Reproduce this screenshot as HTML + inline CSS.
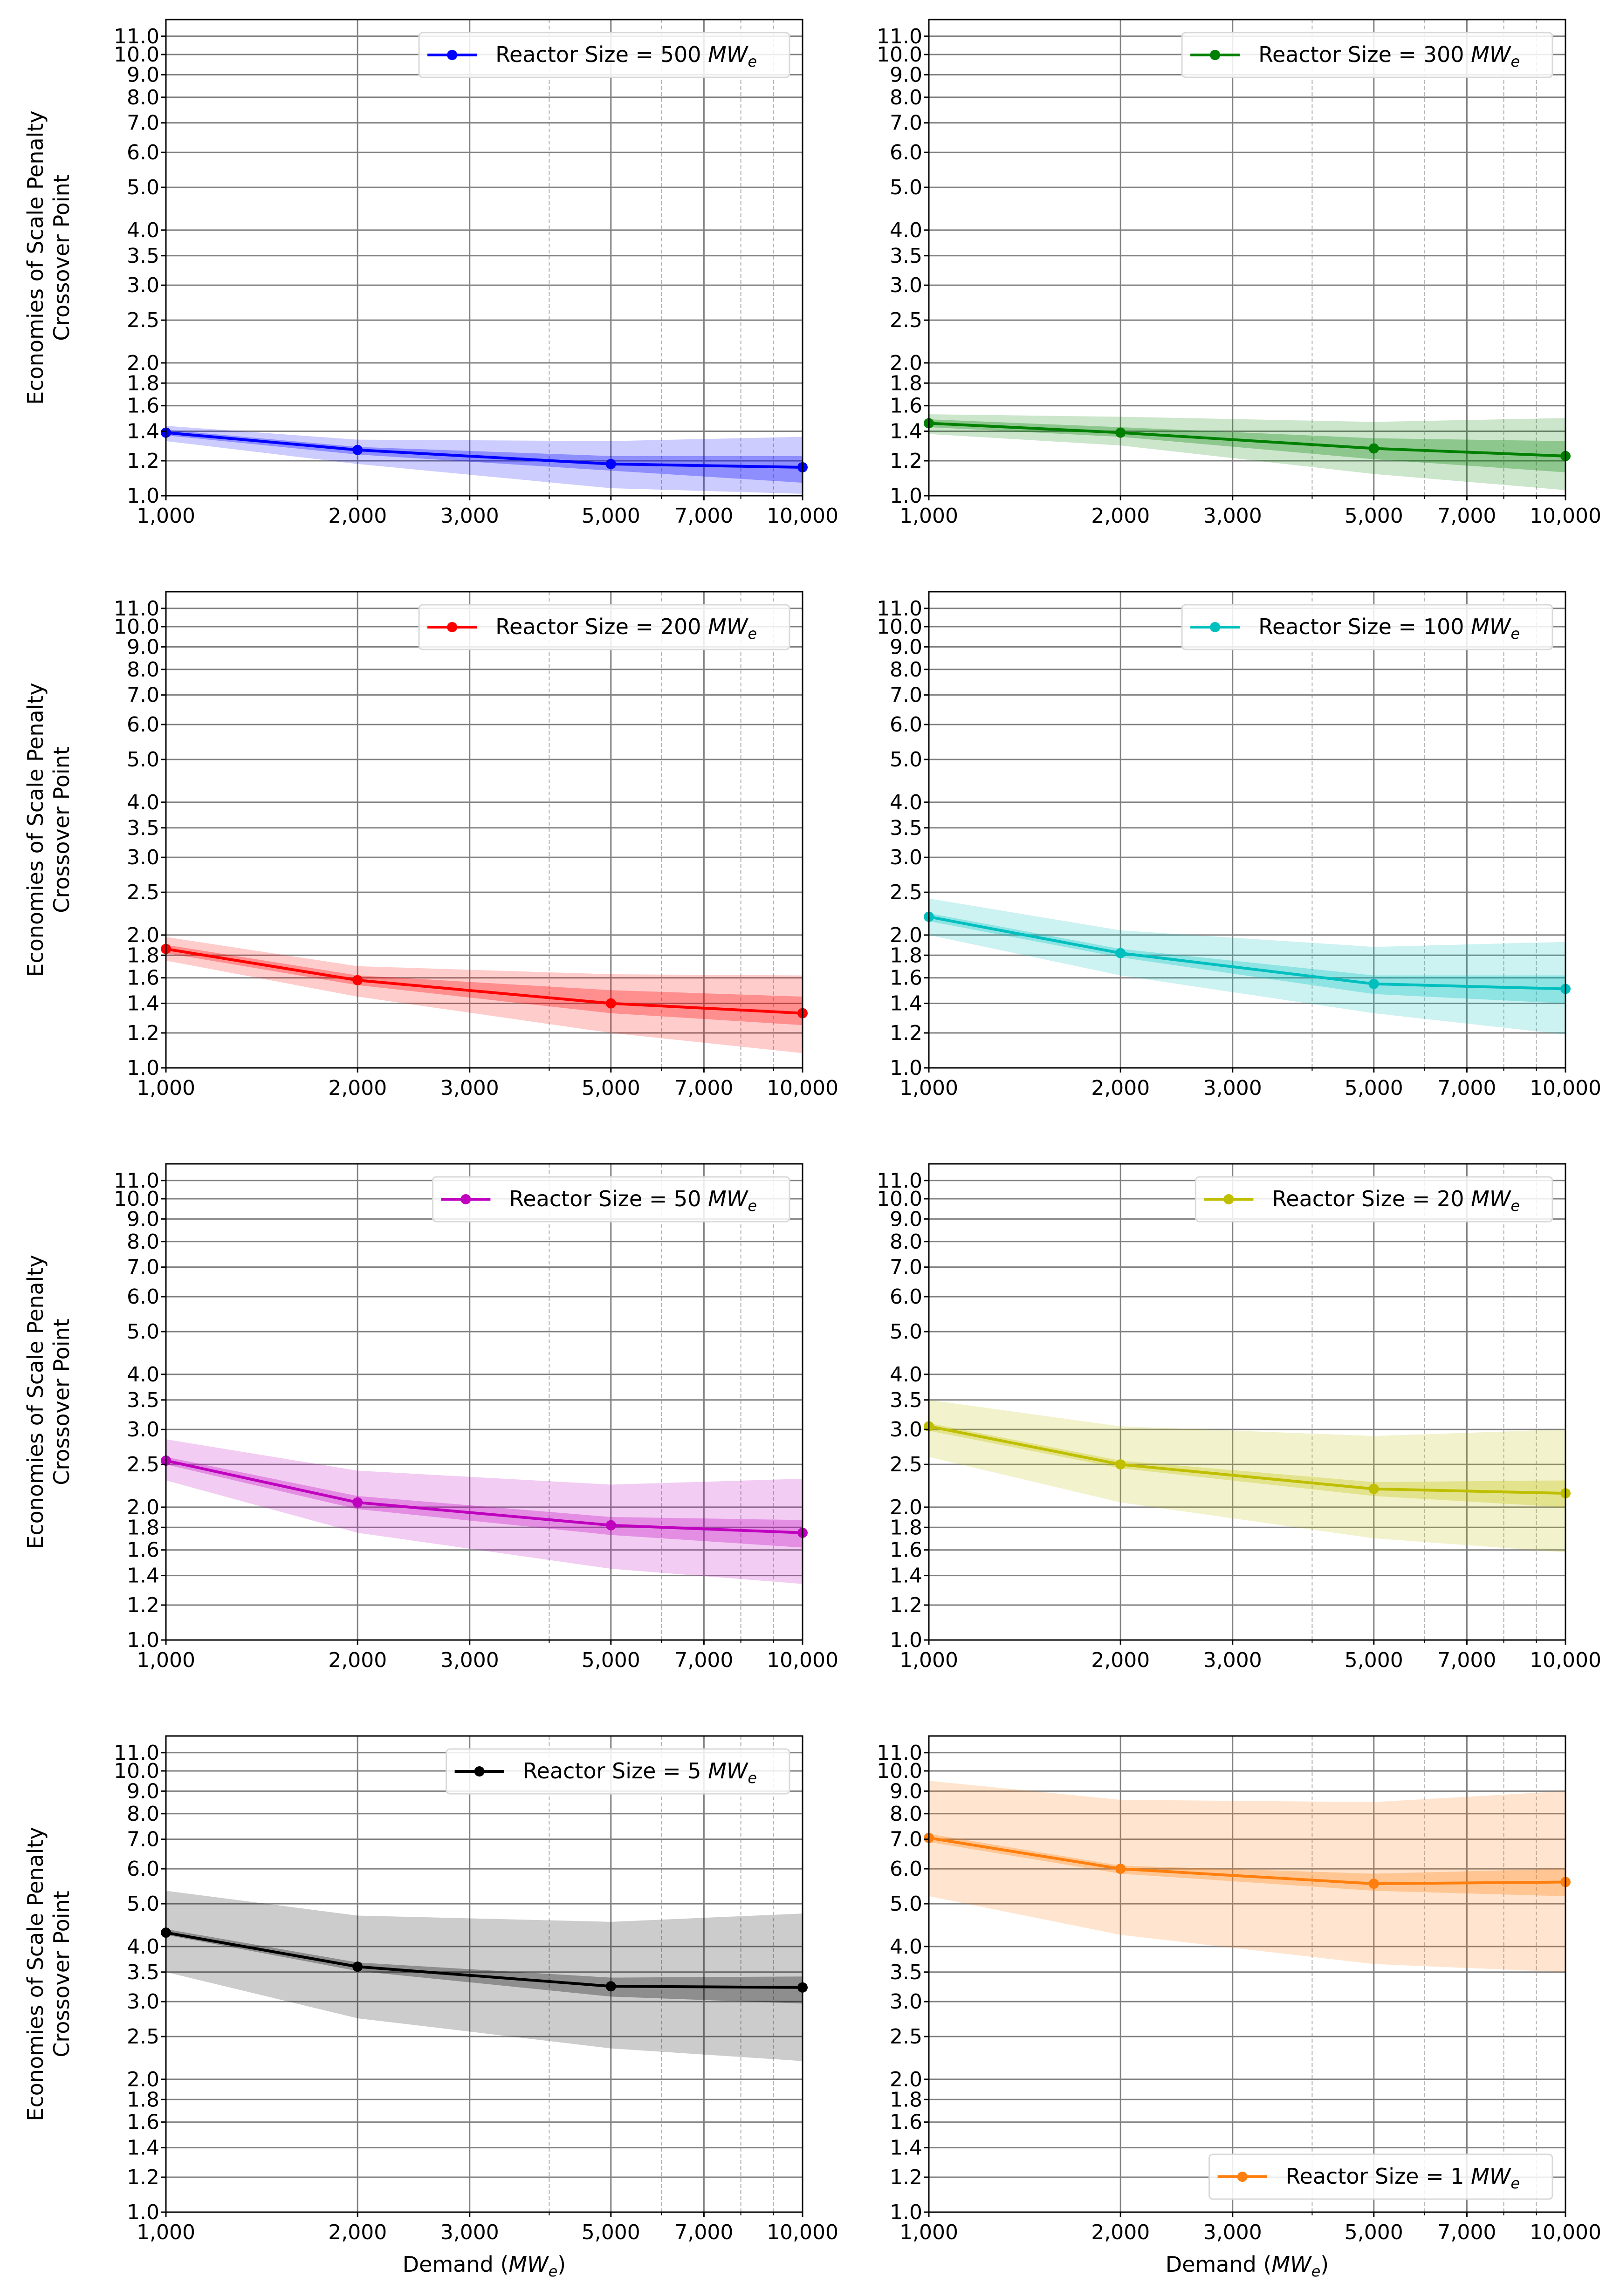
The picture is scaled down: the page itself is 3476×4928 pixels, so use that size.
<!DOCTYPE html>
<html><head><meta charset="utf-8"><style>html,body{margin:0;padding:0;background:#fff}svg{display:block}</style></head>
<body>
<svg id="fig" xmlns="http://www.w3.org/2000/svg" width="3476" height="4928" viewBox="0 0 3476 4928" font-family="'DejaVu Sans','Liberation Sans',sans-serif"></svg>
<script>
const demands = [1000, 2000, 5000, 10000];
const xTickVals = [1000, 2000, 3000, 5000, 7000, 10000];
const xTickLabels = ["1,000", "2,000", "3,000", "5,000", "7,000", "10,000"];
const xMinorVals = [4000, 6000, 8000, 9000];
const yTickVals = [1.0,1.2,1.4,1.6,1.8,2.0,2.5,3.0,3.5,4.0,5.0,6.0,7.0,8.0,9.0,10.0,11.0];
const yTickLabels = ["1.0","1.2","1.4","1.6","1.8","2.0","2.5","3.0","3.5","4.0","5.0","6.0","7.0","8.0","9.0","10.0","11.0"];
const sizes = [500, 300, 200, 100, 50, 20, 5, 1];
const colors = ["#0000ff","#008000","#ff0000","#00bfbf","#bf00bf","#bfbf00","#000000","#ff7f0e"];
const meanVals = [[1.39,1.27,1.18,1.16],[1.46,1.39,1.28,1.23],[1.86,1.58,1.40,1.33],[2.20,1.82,1.55,1.51],[2.55,2.05,1.82,1.75],[3.05,2.50,2.20,2.15],[4.30,3.60,3.25,3.23],[7.05,6.00,5.55,5.60]];
const outerHi = [[1.44,1.34,1.33,1.36],[1.53,1.51,1.47,1.50],[1.98,1.70,1.63,1.62],[2.42,2.05,1.88,1.93],[2.85,2.42,2.25,2.32],[3.50,3.05,2.90,3.00],[5.35,4.70,4.55,4.75],[9.50,8.60,8.50,9.00]];
const outerLo = [[1.33,1.18,1.04,1.01],[1.38,1.30,1.12,1.03],[1.75,1.45,1.20,1.08],[2.00,1.62,1.33,1.19],[2.30,1.75,1.45,1.34],[2.60,2.05,1.70,1.58],[3.50,2.75,2.35,2.20],[5.20,4.25,3.65,3.50]];
const innerHi = [[1.41,1.29,1.23,1.23],[1.49,1.43,1.35,1.33],[1.90,1.62,1.50,1.45],[2.24,1.86,1.62,1.62],[2.60,2.12,1.90,1.87],[3.10,2.55,2.28,2.30],[4.38,3.68,3.40,3.42],[7.20,6.10,5.85,6.00]];
const innerLo = [[1.37,1.24,1.14,1.07],[1.43,1.36,1.21,1.13],[1.82,1.54,1.33,1.25],[2.15,1.78,1.47,1.40],[2.50,1.98,1.73,1.62],[2.98,2.45,2.12,2.00],[4.25,3.52,3.08,2.97],[6.90,5.85,5.35,5.20]];

const NS = "http://www.w3.org/2000/svg";
const svg = document.getElementById('fig');
function mk(tag, attrs, parent){const e=document.createElementNS(NS,tag);for(const k in attrs)e.setAttribute(k,attrs[k]);(parent||svg).appendChild(e);return e;}
const colX = [356, 1993], W = 1366, H = 1022, rowY = [42, 1270, 2498, 3726];
const YMIN=1, YMAX=12, XMIN=1000, XMAX=10000;

sizes.forEach((sz, i) => {
  const r = Math.floor(i/2), c = i%2;
  const L = colX[c], T = rowY[r];
  const xs = v => L + W*(Math.log10(v)-Math.log10(XMIN))/(Math.log10(XMAX)-Math.log10(XMIN));
  const ys = v => T + H - H*(Math.log10(v)-Math.log10(YMIN))/(Math.log10(YMAX)-Math.log10(YMIN));
  const g = mk('g', {});
  
  
  xMinorVals.forEach(v => { const l = mk('line',{x1:xs(v),x2:xs(v),y1:T,y2:T+H,stroke:'#b0b0b0','stroke-width':2,'stroke-dasharray':'8,5'},g);
     
    mk('line',{x1:xs(v),x2:xs(v),y1:T+H,y2:T+H+7,stroke:'#000','stroke-width':2},g); });
  xTickVals.forEach(v => { const l = mk('line',{x1:xs(v),x2:xs(v),y1:T,y2:T+H,stroke:'#808080','stroke-width':3},g);
      });
  yTickVals.forEach(v => { const l = mk('line',{x1:L,x2:L+W,y1:ys(v),y2:ys(v),stroke:'#808080','stroke-width':3},g);
      });
  const band = (hi, lo, op, name) => {
    let d = demands.map((v,k)=>(k?'L':'M')+xs(v)+','+ys(hi[k])).join('');
    for (let k=demands.length-1;k>=0;k--) d += 'L'+xs(demands[k])+','+ys(lo[k]);
    const p = mk('path',{d:d+'Z',fill:colors[i],'fill-opacity':op},g);
     
  };
  band(outerHi[i], outerLo[i], 0.2, 'outer-band');
  band(innerHi[i], innerLo[i], 0.3, 'inner-band');
  const ln = mk('polyline',{points:demands.map((v,k)=>xs(v)+','+ys(meanVals[i][k])).join(' '),fill:'none',stroke:colors[i],'stroke-width':6},g);
   
  demands.forEach((v,k)=>{ const m = mk('circle',{cx:xs(v),cy:ys(meanVals[i][k]),r:11,fill:colors[i]},g);
      });
  const fr = mk('rect',{x:L,y:T,width:W,height:H,fill:'none',stroke:'#000','stroke-width':3},g);
   
  yTickVals.forEach((v,k)=>{ mk('line',{x1:L-10,x2:L,y1:ys(v),y2:ys(v),stroke:'#000','stroke-width':3},g);
    const t = mk('text',{x:L-14,y:ys(v)+15,'text-anchor':'end','font-size':44},g); t.textContent = yTickLabels[k];
      });
  xTickVals.forEach((v,k)=>{ mk('line',{x1:xs(v),x2:xs(v),y1:T+H,y2:T+H+10,stroke:'#000','stroke-width':3},g);
    const t = mk('text',{x:xs(v),y:T+H+58,'text-anchor':'middle','font-size':44},g); t.textContent = xTickLabels[k];
      });
  // legend
  const label = 'Reactor Size = ' + sz + ' ';
  const bottom = (i===7);
  const ly = bottom ? T + H - 28 - 96 : T + 28;
  const lg = mk('g',{},g);
   
  const box = mk('rect',{x:0,y:ly,width:10,height:96,rx:8,fill:'#fff','fill-opacity':0.85,stroke:'#d9d9d9','stroke-width':3},lg);
  const lline = mk('line',{x1:0,x2:0,y1:ly+48,y2:ly+48,stroke:colors[i],'stroke-width':6},lg);
  const ldot = mk('circle',{cx:0,cy:ly+48,r:11,fill:colors[i]},lg);
  const tt = mk('text',{x:0,y:ly+63,'font-size':46},lg);
   
  tt.appendChild(document.createTextNode(label));
  const it = mk('tspan',{'font-style':'italic'},tt); it.textContent='MW';
  const sub = mk('tspan',{'font-style':'italic','font-size':32,dy:10},tt); sub.textContent='e';
  let tl = 540; try { tl = tt.getComputedTextLength() || tl; } catch(e){}
  const lw = 164 + tl + 70;
  const lx = L + W - 28 - lw;
  box.setAttribute('x', lx); box.setAttribute('width', lw);
  lline.setAttribute('x1', lx+18); lline.setAttribute('x2', lx+124);
  ldot.setAttribute('cx', lx+71);
  tt.setAttribute('x', lx+164);
  if (c===0) {
    const cy = T + H/2;
    const yl = mk('text',{transform:`translate(92,${cy}) rotate(-90)`,'text-anchor':'middle','font-size':46},g);
     
    const a = mk('tspan',{x:0,dy:0},yl); a.textContent='Economies of Scale Penalty';
    const b = mk('tspan',{x:0,dy:56},yl); b.textContent='Crossover Point';
  }
  if (r===3) {
    const xl = mk('text',{x:L+W/2,y:T+H+128,'text-anchor':'middle','font-size':46},g);
     
    xl.appendChild(document.createTextNode('Demand ('));
    const m1 = mk('tspan',{'font-style':'italic'},xl); m1.textContent='MW';
    const m2 = mk('tspan',{'font-style':'italic','font-size':32,dy:10},xl); m2.textContent='e';
    const m3 = mk('tspan',{dy:-10},xl); m3.textContent=')';
  }
});
</script>
</body></html>
